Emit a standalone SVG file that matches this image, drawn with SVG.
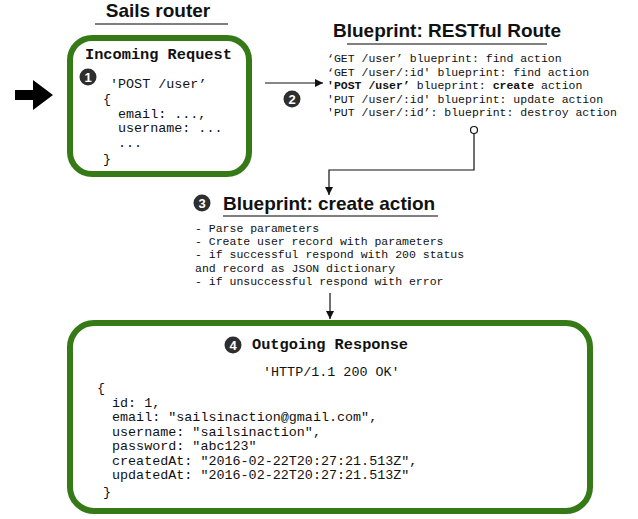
<svg xmlns="http://www.w3.org/2000/svg" width="638" height="519" viewBox="0 0 638 519">
<defs>
<style>
.title{font-family:"Liberation Sans",Arial,sans-serif;font-weight:bold;font-size:19px;fill:#111}
.uline{stroke:#555;stroke-width:1.5}
.box{fill:#fff;stroke:#367a17;stroke-width:6}
.mono{font-family:"Liberation Mono","Courier New",monospace;fill:#111}
.code{font-size:13.4px}
.head{font-size:15.3px;font-weight:bold}
.small{font-size:11.5px}
.b{font-weight:bold}
.badge circle{fill:#2e2e2e}
.badge text{font-family:"Liberation Sans",Arial,sans-serif;font-weight:bold;font-size:13px;fill:#fff;text-anchor:middle}
.conn{fill:none;stroke:#111;stroke-width:1.2}
</style>
<marker id="ah" viewBox="0 0 10 10" refX="10" refY="5" markerWidth="8" markerHeight="8" markerUnits="userSpaceOnUse" orient="auto">
<path d="M0,0 L10,5 L0,10 z" fill="#111"/>
</marker>
</defs>

<g id="sails-router">
<text class="title" x="158" y="17" text-anchor="middle">Sails router</text>
<line class="uline" x1="95" y1="24" x2="228" y2="24"/>
</g>

<g id="incoming-request">
<rect class="box" x="70" y="38" width="179" height="136" rx="22"/>
<text class="mono head" x="85" y="59">Incoming Request</text>
<g class="badge"><circle cx="88" cy="77" r="8.5"/><text x="88" y="82">1</text></g>
<text class="mono code" x="110" y="88">'POST /user’</text>
<text class="mono code" x="103" y="103">{</text>
<text class="mono code" x="118" y="118">email: ...,</text>
<text class="mono code" x="118" y="132">username: ...</text>
<text class="mono code" x="118" y="147">...</text>
<text class="mono code" x="103" y="163">}</text>
</g>

<g id="restful-route">
<text class="title" x="447" y="37" text-anchor="middle">Blueprint: RESTful Route</text>
<line class="uline" x1="347" y1="44" x2="547" y2="44"/>
<text class="mono small" x="327" y="62">‘GET /user’ blueprint: find action</text>
<text class="mono small" x="327" y="76">‘GET /user/:id' blueprint: find action</text>
<text class="mono small" x="327" y="89"><tspan class="b">'POST /user’</tspan> blueprint: <tspan class="b">create</tspan> action</text>
<text class="mono small" x="327" y="103">'PUT /user/:id' blueprint: update action</text>
<text class="mono small" x="327" y="116">'PUT /user/:id’: blueprint: destroy action</text>
</g>

<g id="create-action">
<g class="badge"><circle cx="202" cy="203" r="8.5"/><text x="202" y="208">3</text></g>
<text class="title" x="223" y="210">Blueprint: create action</text>
<line class="uline" x1="223" y1="216" x2="438" y2="216"/>
<text class="mono small" x="195" y="232">- Parse parameters</text>
<text class="mono small" x="195" y="245">- Create user record with parameters</text>
<text class="mono small" x="195" y="258">- if successful respond with 200 status</text>
<text class="mono small" x="195" y="272">and record as JSON dictionary</text>
<text class="mono small" x="195" y="285">- if unsuccessful respond with error</text>
</g>

<g id="outgoing-response">
<rect class="box" x="70" y="323" width="520" height="188" rx="24"/>
<g class="badge"><circle cx="233" cy="345" r="8.5"/><text x="233" y="350">4</text></g>
<text class="mono head" x="252" y="349">Outgoing Response</text>
<text class="mono code" x="263" y="376">'HTTP/1.1 200 OK'</text>
<text class="mono code" x="97" y="392">{</text>
<text class="mono code" x="112" y="407">id: 1,</text>
<text class="mono code" x="112" y="421">email: "sailsinaction@gmail.com",</text>
<text class="mono code" x="112" y="436">username: "sailsinaction",</text>
<text class="mono code" x="112" y="450">password: "abc123"</text>
<text class="mono code" x="112" y="465">createdAt: "2016-02-22T20:27:21.513Z",</text>
<text class="mono code" x="112" y="479">updatedAt: "2016-02-22T20:27:21.513Z"</text>
<text class="mono code" x="103" y="496">}</text>
</g>

<g id="connectors">
<path d="M15,90 L33,90 L33,80 L53,95 L33,110 L33,100 L15,100 z" fill="#000"/>
<line class="conn" x1="265" y1="83" x2="323" y2="83" marker-end="url(#ah)"/>
<g class="badge"><circle cx="292" cy="99" r="8.5"/><text x="292" y="104">2</text></g>
<circle cx="474" cy="130" r="3.5" fill="#fff" stroke="#111" stroke-width="1.2"/>
<path class="conn" d="M474,133.5 L474,170 L329,170 L329,195" marker-end="url(#ah)"/>
<line class="conn" x1="330" y1="293" x2="330" y2="319" marker-end="url(#ah)"/>
</g>
</svg>
